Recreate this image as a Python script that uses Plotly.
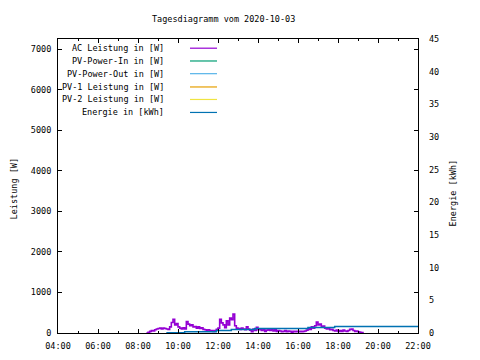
import plotly.graph_objects as go

DATE = "2020-10-03"
TITLE = "Tagesdiagramm vom 2020-10-03"

power_times = [
    "08:25", "08:30", "08:35", "08:40", "08:45", "08:50", "08:55", "09:00", "09:05", "09:10",
    "09:15", "09:20", "09:25", "09:30", "09:35", "09:40", "09:45", "09:50", "09:55", "10:00",
    "10:05", "10:10", "10:15", "10:20", "10:25", "10:30", "10:35", "10:40", "10:45", "10:50",
    "10:55", "11:00", "11:05", "11:10", "11:15", "11:20", "11:25", "11:30", "11:35", "11:40",
    "11:45", "11:50", "11:55", "12:00", "12:05", "12:10", "12:15", "12:20", "12:25", "12:30",
    "12:35", "12:40", "12:45", "12:50", "12:55", "13:00", "13:05", "13:10", "13:15", "13:20",
    "13:25", "13:30", "13:35", "13:40", "13:45", "13:50", "13:55", "14:00", "14:05", "14:10",
    "14:15", "14:20", "14:25", "14:30", "14:35", "14:40", "14:45", "14:50", "14:55", "15:00",
    "15:05", "15:10", "15:15", "15:20", "15:25", "15:30", "15:35", "15:40", "15:45", "15:50",
    "15:55", "16:00", "16:05", "16:10", "16:15", "16:20", "16:25", "16:30", "16:35", "16:40",
    "16:45", "16:50", "16:55", "17:00", "17:05", "17:10", "17:15", "17:20", "17:25", "17:30",
    "17:35", "17:40", "17:45", "17:50", "17:55", "18:00", "18:05", "18:10", "18:15", "18:20",
    "18:25", "18:30", "18:35", "18:40", "18:45", "18:50", "18:55", "19:00", "19:05", "19:10",
    "19:15",
]
ac_power = [
    0, 20, 40, 60, 50, 80, 100, 110, 120, 100,
    120, 110, 100, 90, 150, 260, 340, 200, 230, 150,
    120, 100, 130, 100, 280, 220, 180, 200, 150, 160,
    120, 150, 110, 130, 90, 80, 60, 80, 50, 60,
    40, 60, 90, 120, 340, 250, 200, 130, 300, 200,
    370, 330, 470, 180, 120, 110, 90, 120, 100, 80,
    150, 100, 70, 30, 100, 60, 140, 80, 100, 60,
    90, 40, 70, 100, 60, 90, 50, 80, 40, 60,
    50, 30, 40, 60, 30, 50, 40, 20, 40, 30,
    40, 30, 40, 30, 40, 50, 70, 110, 90, 150,
    120, 180, 270, 200, 220, 150, 170, 120, 100, 130,
    80, 90, 60, 50, 70, 40, 60, 40, 70, 50,
    40, 60, 90, 100, 60, 40, 50, 30, 20, 10,
    0,
]

energy_times = ["09:25", "10:20", "11:55", "12:40", "13:50", "16:30", "17:50", "22:00"]
energy_kwh = [0.05, 0.2, 0.4, 0.55, 0.7, 0.85, 1.0, 1.0]

legend_labels = [
    "AC Leistung in [W]",
    "PV-Power-In in [W]",
    "PV-Power-Out in [W]",
    "PV-1 Leistung in [W]",
    "PV-2 Leistung in [W]",
    "Energie in [kWh]",
]
legend_colors = ["#9400d3", "#009e73", "#56b4e9", "#e69f00", "#f0e442", "#0072b2"]

Y1_MAX = 7250
Y2_MAX = 45
FONT = "DejaVu Sans Mono"
FS = 8.5

px = [f"{DATE} {t}" for t in power_times]
ex = [f"{DATE} {t}" for t in energy_times]

fig = go.Figure()
fig.add_trace(go.Scatter(x=px, y=ac_power, mode="lines", line=dict(color=legend_colors[0], width=1.6, shape="hv"),
                         name=legend_labels[0], showlegend=False))
for lab, col in zip(legend_labels[1:5], legend_colors[1:5]):
    fig.add_trace(go.Scatter(x=[None], y=[None], mode="lines", line=dict(color=col, width=1),
                             name=lab, showlegend=False))
fig.add_trace(go.Scatter(x=ex, y=energy_kwh, mode="lines", yaxis="y2",
                         line=dict(color=legend_colors[5], width=1.5, shape="hv"),
                         name=legend_labels[5], showlegend=False))

# page has an 8px body margin; positions below are given in window pixels
OFF = 8
FW, FH = 480 - OFF, 360 - OFF
WL, WR, WT, WB = 58, 418, 38.5, 332.7  # plot frame in window px
L, T = WL - OFF, WT - OFF
R, B = FW - (WR - OFF), FH - (WB - OFF)
W = WR - WL
H = WB - WT


def xp(wx):
    return (wx - WL) / W


def yp(wy):
    return (WB - wy) / H


key_y = [47.7, 60.5, 73.2, 86.5, 99.0, 112.0]
for lab, col, yy in zip(legend_labels, legend_colors, key_y):
    fig.add_annotation(x=xp(166), y=yp(yy), xref="paper", yref="paper", text=lab, showarrow=False,
                       xanchor="right", yanchor="middle", font=dict(family=FONT, size=FS, color="black"))
    fig.add_shape(type="line", xref="paper", yref="paper", x0=xp(190), x1=xp(217),
                  y0=yp(yy), y1=yp(yy), line=dict(color=col, width=1.2))

fig.add_annotation(x=xp(223), y=yp(18), xref="paper", yref="paper", text=TITLE,
                   showarrow=False, xanchor="center", yanchor="middle", font=dict(family=FONT, size=FS))
fig.add_annotation(x=xp(14), y=yp(189), xref="paper", yref="paper", text="Leistung [W]", textangle=-90,
                   showarrow=False, xanchor="center", yanchor="middle", font=dict(family=FONT, size=FS))
fig.add_annotation(x=xp(453), y=yp(193), xref="paper", yref="paper", text="Energie [kWh]", textangle=-90,
                   showarrow=False, xanchor="center", yanchor="middle", font=dict(family=FONT, size=FS))

fig.update_layout(
    width=FW, height=FH,
    margin=dict(l=L, r=R, t=T, b=B, autoexpand=False),
    paper_bgcolor="white", plot_bgcolor="white",
    font=dict(family=FONT, size=FS, color="black"),
    showlegend=False,
    xaxis=dict(type="date", range=[f"{DATE} 04:00", f"{DATE} 22:00"], dtick=7200000, tickformat="%H:%M",
               tick0=f"{DATE} 04:00",
               ticks="inside", ticklen=4, tickcolor="black", showline=True, linecolor="black", linewidth=1,
               mirror="ticks", showgrid=False, zeroline=False, ticklabelstandoff=5,
               minor=dict(dtick=3600000, ticks="inside", ticklen=2, tickcolor="black", showgrid=False)),
    yaxis=dict(range=[0, Y1_MAX], dtick=1000, ticks="inside", ticklen=4, tickcolor="black",
               showline=True, linecolor="black", linewidth=1, mirror="ticks", showgrid=False,
               zeroline=False, ticklabelstandoff=4),
    yaxis2=dict(range=[0, Y2_MAX], dtick=5, overlaying="y", side="right", ticks="",
                showline=False, showgrid=False, zeroline=False, ticklabelstandoff=10),
)

fig.write_html("out.html")
